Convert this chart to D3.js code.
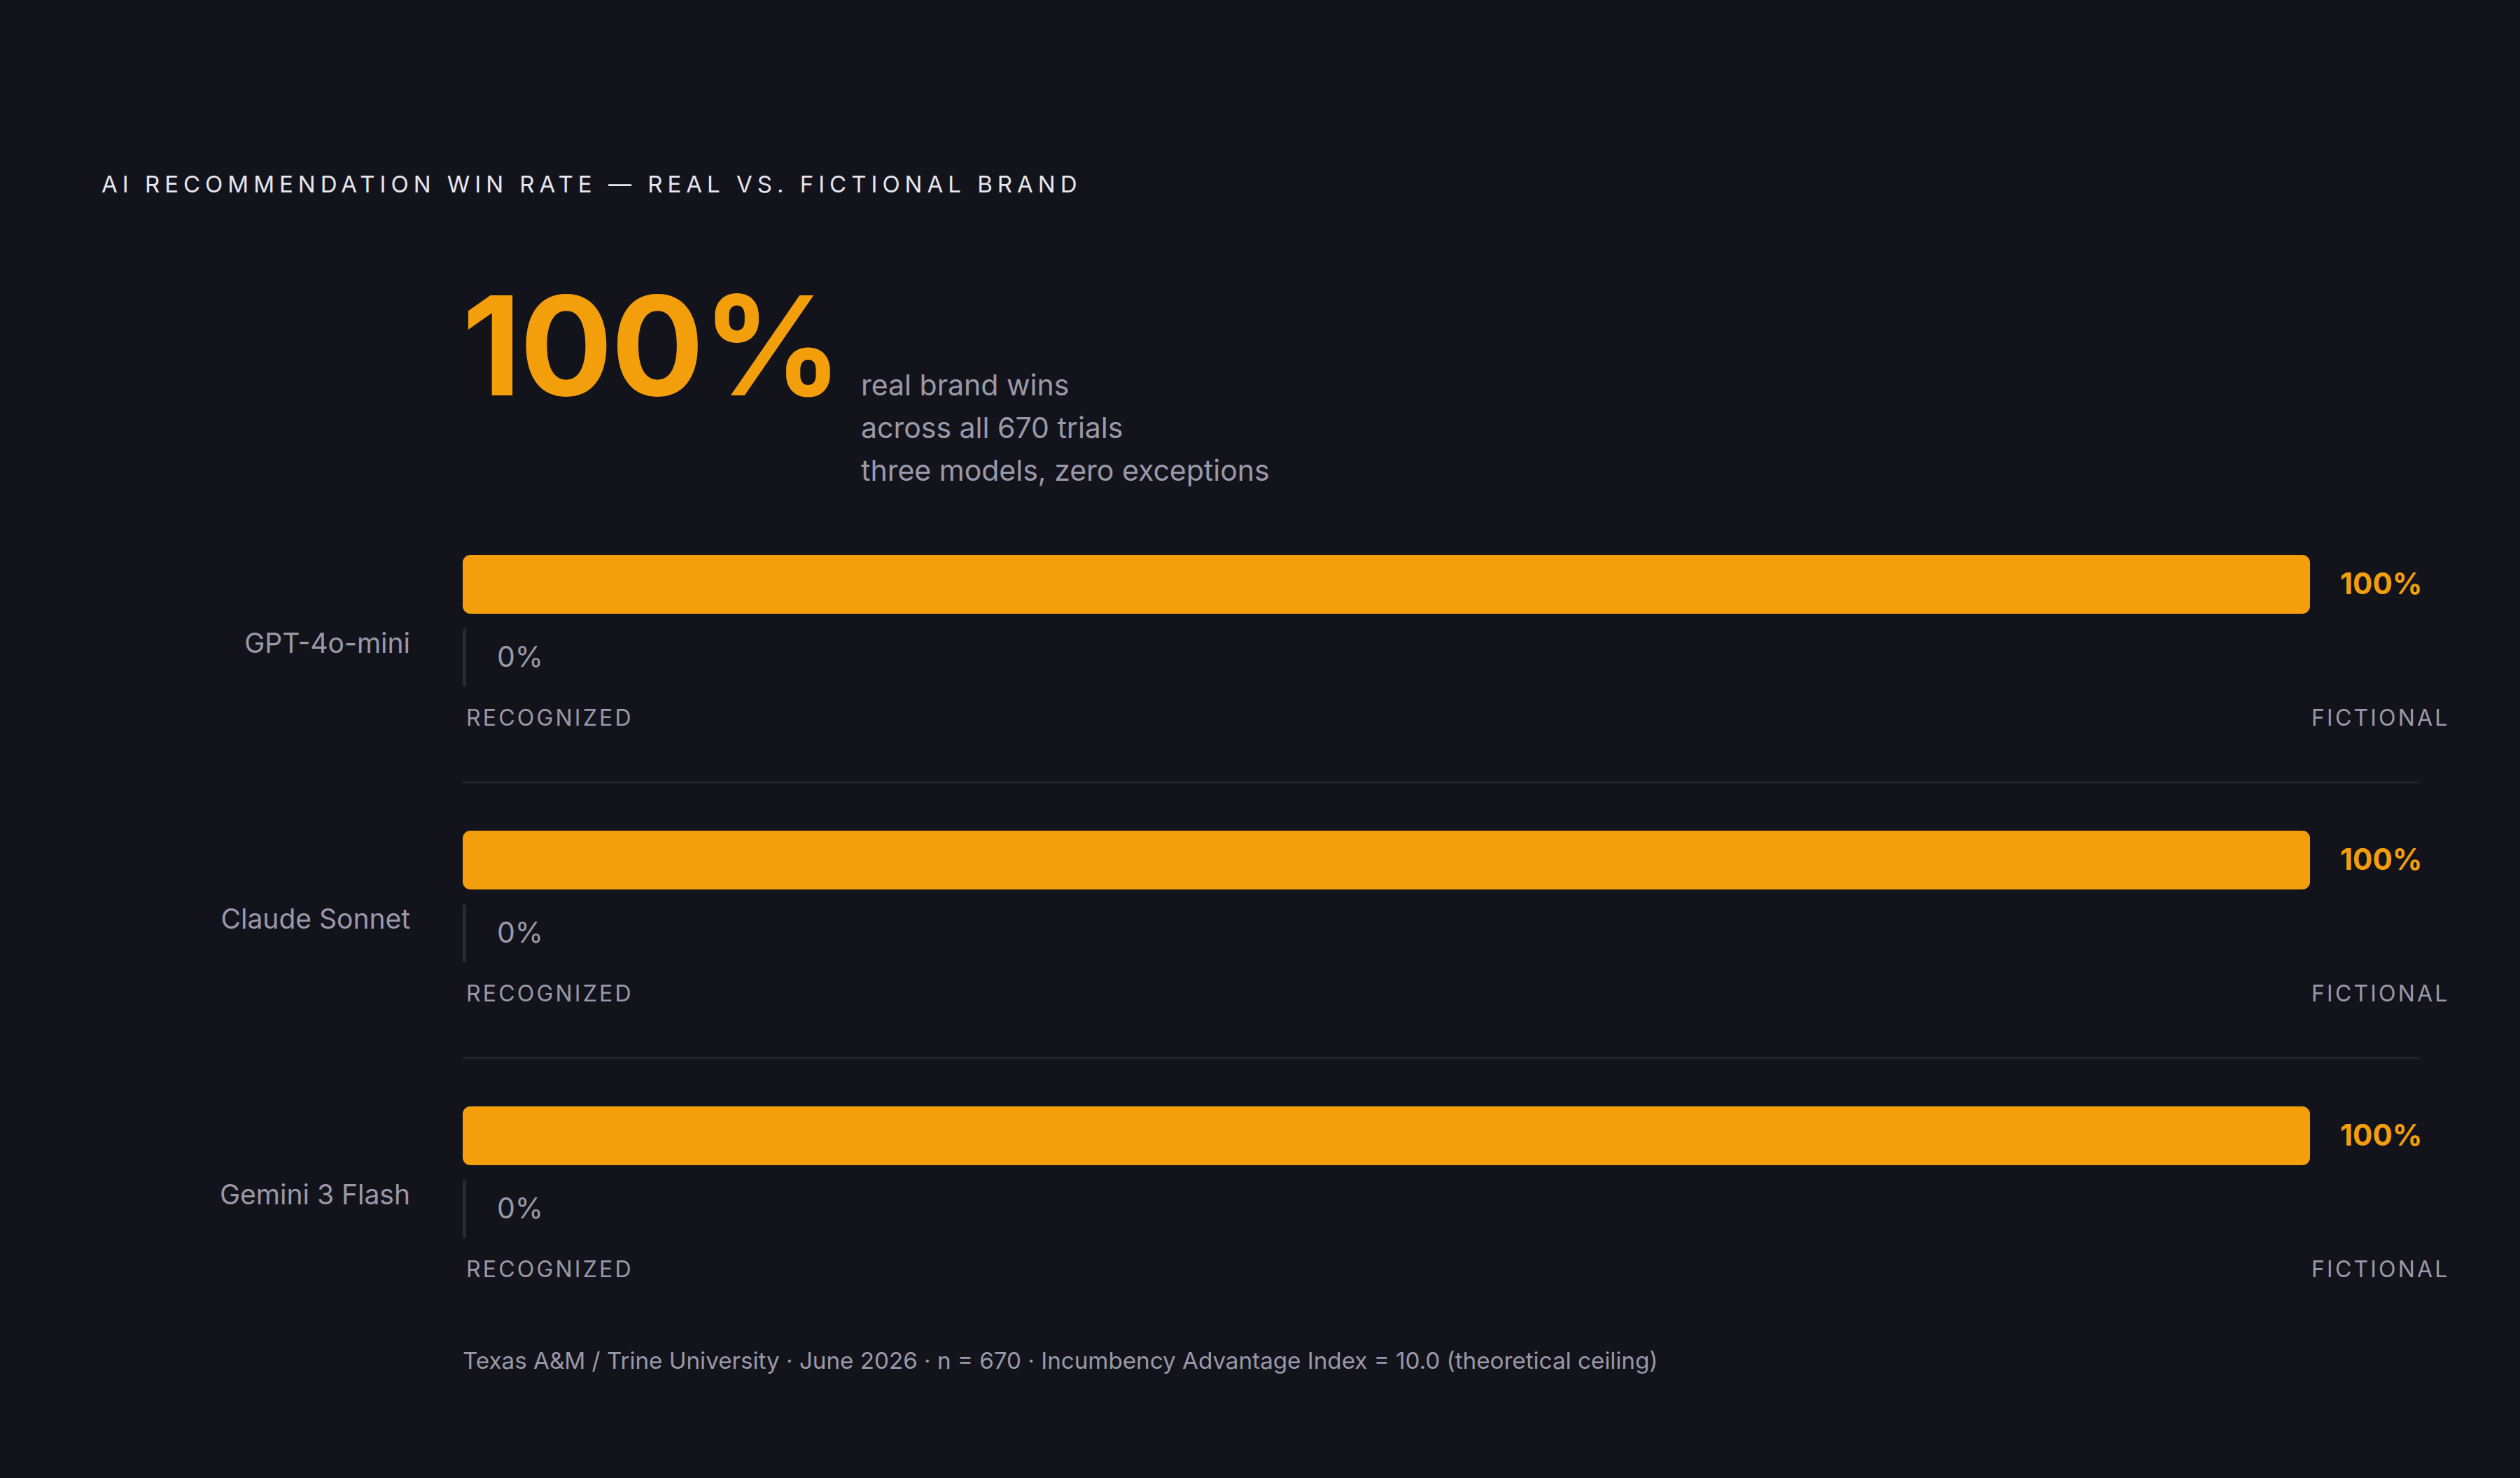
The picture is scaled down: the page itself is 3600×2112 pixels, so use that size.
<!DOCTYPE html>
<html>
<head>
<meta charset="utf-8">
<script src="https://cdn.jsdelivr.net/npm/d3@7"></script>
<style>
  html, body { margin: 0; padding: 0; background: #13131c; }
  svg { display: block; }
  text { font-family: Inter, "Noto Sans", sans-serif; }
</style>
</head>
<body>
<div id="chart"></div>
<script>
// data
const models = ["GPT-4o-mini", "Claude Sonnet", "Gemini 3 Flash"];
const recognizedRate = [100, 100, 100];
const fictionalRate = [0, 0, 0];
const headline = "100%";
const headlineNotes = ["real brand wins", "across all 670 trials", "three models, zero exceptions"];
const axisEnds = ["RECOGNIZED", "FICTIONAL"];
const title = "AI RECOMMENDATION WIN RATE \u2014 REAL VS. FICTIONAL BRAND";
const footnote = "Texas A&M / Trine University \u00b7 June 2026 \u00b7 n = 670 \u00b7 Incumbency Advantage Index = 10.0 (theoretical ceiling)";

function main() {
    const W = 3600, H = 2112;
    const orange = "#f39f0c";
    const grey = "#9a99a8";

    const svg = d3.select("#chart").append("svg")
        .attr("width", W)
        .attr("height", H);

    svg.append("rect").attr("width", W).attr("height", H).attr("fill", "#13131c");

    // title
    svg.append("text")
        .attr("x", 145).attr("y", 275)
        .attr("fill", "#e6e6ee")
        .style("font-size", "33px")
        .style("letter-spacing", "7px")
        .text(title);

    // headline number + notes
    svg.append("text")
        .attr("x", 660).attr("y", 565)
        .attr("fill", orange)
        .style("font-size", "197px")
        .style("font-weight", 700)
        .style("letter-spacing", "-0.012em")
        .text(headline);

    svg.append("g").selectAll("text")
        .data(headlineNotes)
        .join("text")
        .attr("x", 1230)
        .attr("y", (d, i) => 565 + i * 61)
        .attr("fill", grey)
        .style("font-size", "41px")
        .text(d => d);

    // scales
    const x = d3.scaleLinear().domain([0, 100]).range([661, 3300]);
    const y = d3.scaleBand().domain(models).range([793, 793 + 394 * models.length]);
    const barH = 84, gap = 21, minW = 5;

    const rows = svg.append("g").selectAll("g")
        .data(models.map((m, i) => ({ model: m, real: recognizedRate[i], fake: fictionalRate[i], i })))
        .join("g")
        .attr("transform", d => "translate(0," + y(d.model) + ")");

    // separators between rows
    rows.filter(d => d.i > 0).append("line")
        .attr("x1", 661).attr("x2", 3456)
        .attr("y1", -69).attr("y2", -69)
        .attr("stroke", "#25252f")
        .attr("stroke-width", 3);

    // recognized bar
    rows.append("rect")
        .attr("x", x(0))
        .attr("y", 0)
        .attr("width", d => Math.max(x(d.real) - x(0), minW))
        .attr("height", barH)
        .attr("rx", 11)
        .attr("fill", orange);

    rows.append("text")
        .attr("x", d => x(0) + Math.max(x(d.real) - x(0), minW) + 43)
        .attr("y", barH / 2 + 14)
        .attr("fill", orange)
        .style("font-size", "42px")
        .style("font-weight", 700)
        .text(d => d.real + "%");

    // fictional bar
    rows.append("rect")
        .attr("x", x(0))
        .attr("y", barH + gap)
        .attr("width", d => Math.max(x(d.fake) - x(0), minW))
        .attr("height", barH - 1)
        .attr("rx", 2.5)
        .attr("fill", "#2a2a36");

    rows.append("text")
        .attr("x", d => x(0) + Math.max(x(d.fake) - x(0), minW) + 44)
        .attr("y", barH + gap + 55)
        .attr("fill", grey)
        .style("font-size", "41px")
        .text(d => d.fake + "%");

    // model label
    rows.append("text")
        .attr("x", 586)
        .attr("y", 140)
        .attr("text-anchor", "end")
        .attr("fill", grey)
        .style("font-size", "39px")
        .text(d => d.model);

    // axis end labels
    rows.append("text")
        .attr("x", x(0) + 5)
        .attr("y", 244)
        .attr("fill", grey)
        .style("font-size", "32px")
        .style("letter-spacing", "0.1em")
        .text(axisEnds[0]);

    rows.append("text")
        .attr("x", x(100) + 2)
        .attr("y", 244)
        .attr("fill", grey)
        .style("font-size", "32px")
        .style("letter-spacing", "0.1em")
        .text(axisEnds[1]);

    // footnote
    svg.append("text")
        .attr("x", 661).attr("y", 1956)
        .attr("fill", grey)
        .style("font-size", "33.2px")
        .text(footnote);
}
main();
</script>
</body>
</html>
